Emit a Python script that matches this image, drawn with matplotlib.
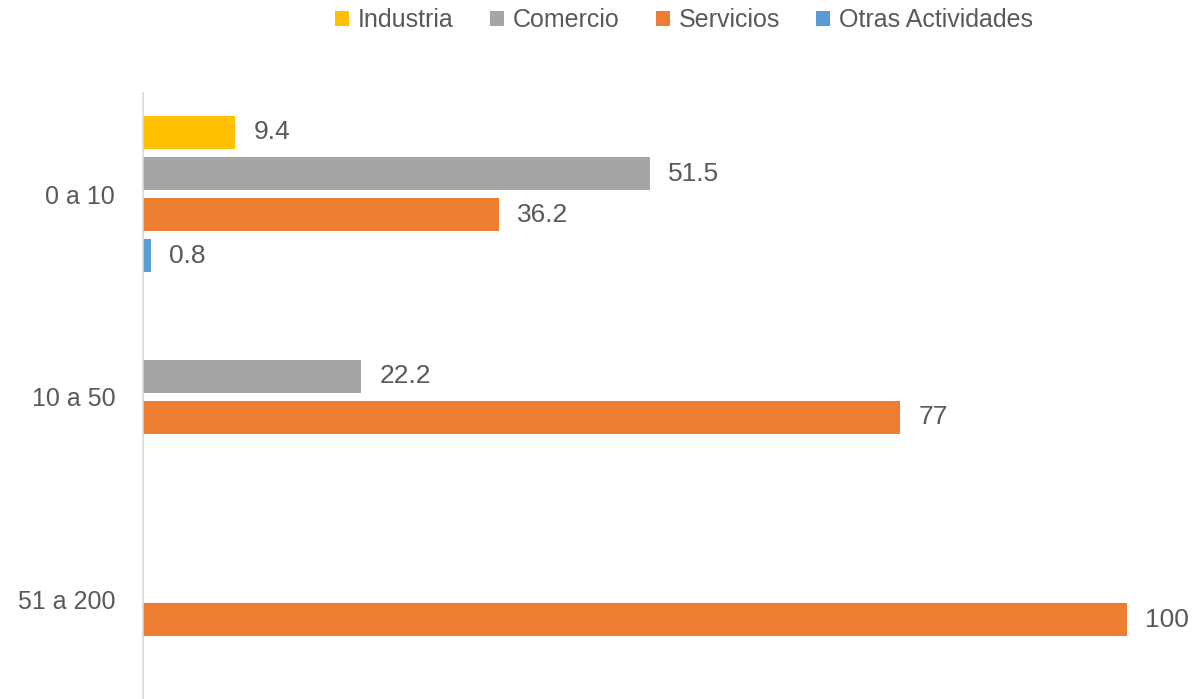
import matplotlib.pyplot as plt
import numpy as np
from matplotlib.patches import Patch

categories = ['0 a 10', '10 a 50', '51 a 200']
series = ['Industria', 'Comercio', 'Servicios', 'Otras Actividades']
industria = [9.4, np.nan, np.nan]
comercio = [51.5, 22.2, np.nan]
servicios = [36.2, 77, 100]
otras = [0.8, np.nan, np.nan]
labels = [['9.4', '', ''], ['51.5', '22.2', ''], ['36.2', '77', '100'], ['0.8', '', '']]
colors = ['#FFC000', '#A5A5A5', '#ED7D31', '#5B9BD5']

font = ['Liberation Sans', 'DejaVu Sans']
text_col = '#595959'

fig = plt.figure(figsize=(11.94, 6.99), dpi=100)
ax = fig.add_axes([143 / 1194, -0.0018, 1 - 143 / 1194, 0.8691])

y = np.arange(len(categories))
slot = 0.2025
values = [industria, comercio, servicios, otras]
for i, (vals, col) in enumerate(zip(values, colors)):
    pos = y + (i - 1.5) * slot
    ax.barh(pos, vals, height=0.163, color=col, label=series[i])
    for p, v, lab in zip(pos, vals, labels[i]):
        if np.isnan(v):
            continue
        ax.annotate(lab, (v, p), xytext=(13, 0), textcoords='offset points',
                    va='center', ha='left', fontsize=19, color=text_col,
                    family=font, annotation_clip=False)

ax.set_ylim(2.5, -0.5)
ax.set_xlim(0, 106.84)
ax.set_yticks(y)
ax.set_yticklabels(categories, family=font, fontsize=18, color=text_col)
ax.tick_params(axis='y', length=0, pad=20)
ax.set_xticks([])
for s in ['top', 'right', 'bottom']:
    ax.spines[s].set_visible(False)
ax.spines['left'].set_color('#D9D9D9')
ax.spines['left'].set_linewidth(1.2)

handles = [Patch(facecolor=c, edgecolor='none') for c in colors]
fig.legend(handles, series, loc='center', bbox_to_anchor=(684 / 1194, 1 - 20 / 699),
           ncol=4, frameon=False, prop={'family': font, 'size': 18},
           labelcolor=text_col, handlelength=0.56, handleheight=0.56,
           handletextpad=0.36, columnspacing=1.45, borderpad=0)

fig.savefig('out.png', dpi=100)
